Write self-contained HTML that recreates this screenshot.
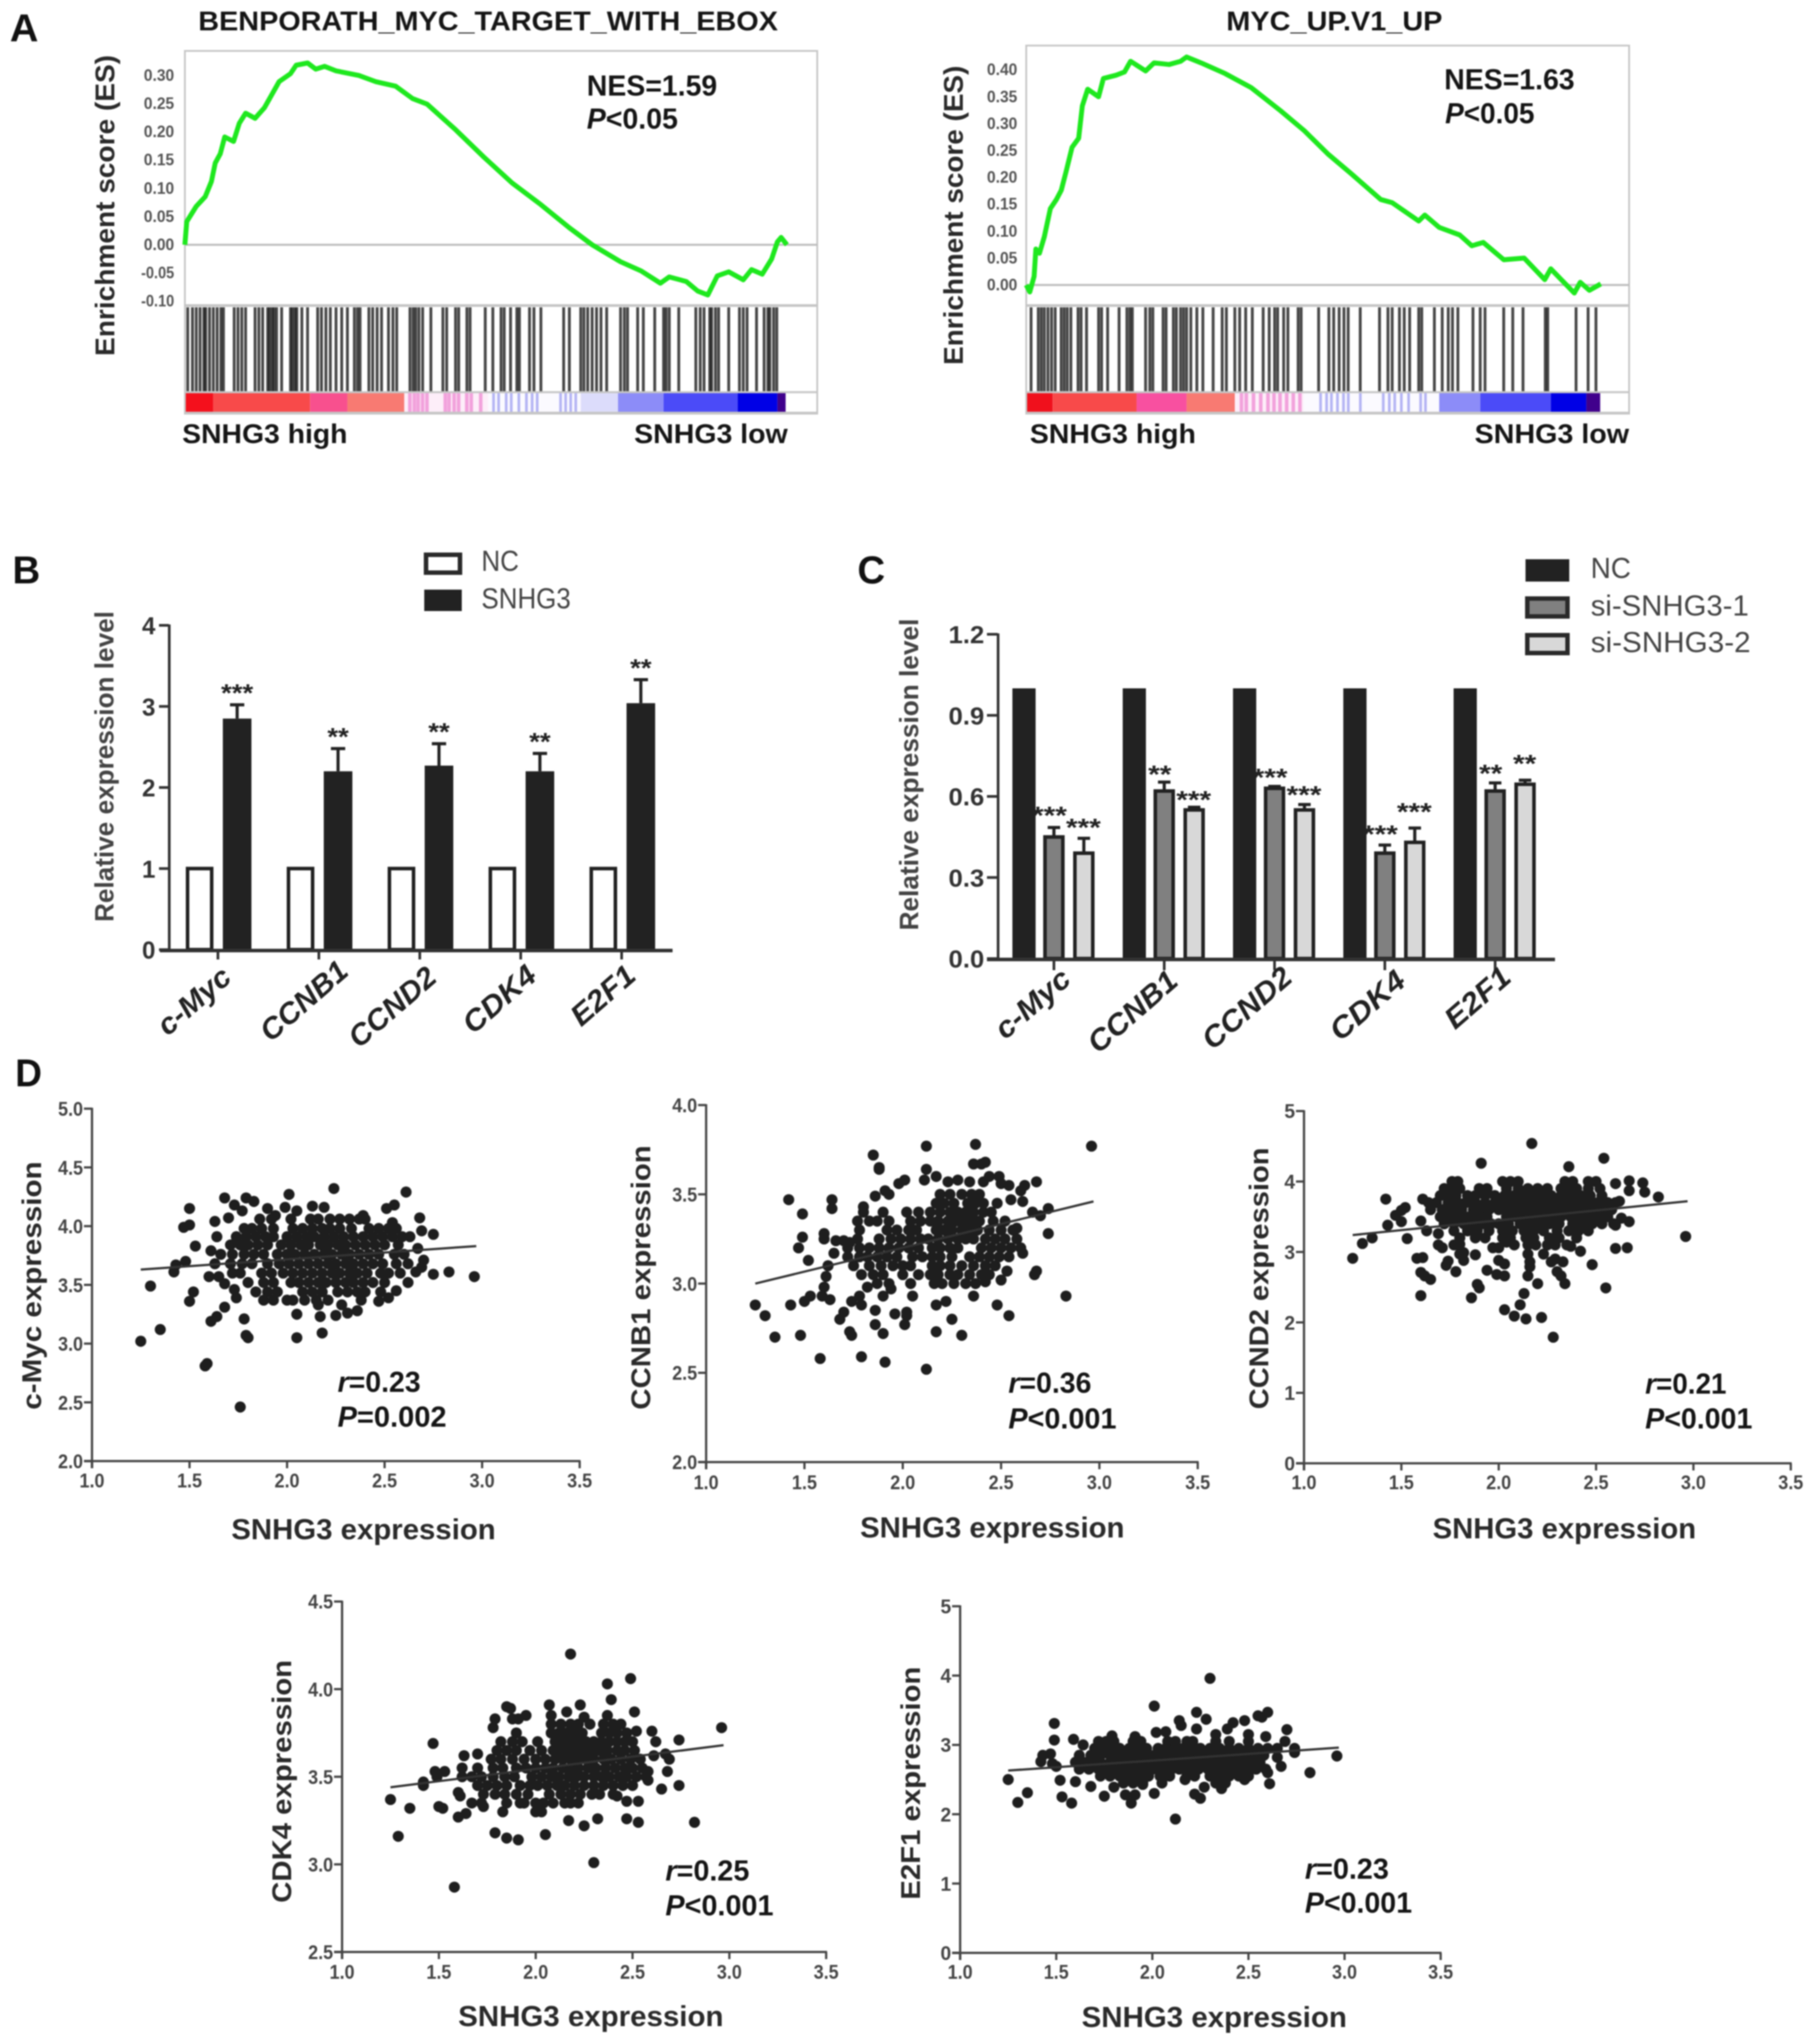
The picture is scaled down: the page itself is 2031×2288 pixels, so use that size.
<!DOCTYPE html>
<html lang="en">
<head>
<meta charset="utf-8">
<title>SNHG3 figure</title>
<style>
html,body{margin:0;padding:0;background:#fff;}
#figure{display:block;width:2031px;height:2288px;filter:blur(0.8px);font-family:"Liberation Sans",Arial,sans-serif;}
.panel{font-weight:bold;font-size:44px;fill:#111;}
.big{font-weight:bold;fill:#151515;}
.lab{font-weight:bold;fill:#2a2a2a;}
.leg{fill:#444;}
</style>
</head>
<body>
<svg id="figure" xmlns="http://www.w3.org/2000/svg" width="2031" height="2288" viewBox="0 0 2031 2288">
<rect width="2031" height="2288" fill="#fff"/>
<g id="marks"></g>

<text class="panel" x="11" y="46" textLength="32" lengthAdjust="spacingAndGlyphs">A</text>
<text class="panel" x="14" y="653" textLength="31" lengthAdjust="spacingAndGlyphs">B</text>
<text class="panel" x="960" y="653" textLength="31" lengthAdjust="spacingAndGlyphs">C</text>
<text class="panel" x="17" y="1216" textLength="30" lengthAdjust="spacingAndGlyphs">D</text>

<text class="big" x="222" y="34" font-size="31" textLength="649" lengthAdjust="spacingAndGlyphs">BENPORATH_MYC_TARGET_WITH_EBOX</text>
<text class="big" x="1373" y="34" font-size="31" textLength="242" lengthAdjust="spacingAndGlyphs">MYC_UP.V1_UP</text>
<text class="lab" transform="translate(128 230) rotate(-90)" text-anchor="middle" font-size="31" textLength="337" lengthAdjust="spacingAndGlyphs">Enrichment score (ES)</text>
<text class="lab" transform="translate(1078 241) rotate(-90)" text-anchor="middle" font-size="31" textLength="335" lengthAdjust="spacingAndGlyphs">Enrichment score (ES)</text>
<text class="big" x="657" y="107" font-size="32" textLength="146" lengthAdjust="spacingAndGlyphs">NES=1.59</text>
<text class="big" x="657" y="144" font-size="32" textLength="102" lengthAdjust="spacingAndGlyphs"><tspan font-style="italic">P</tspan>&lt;0.05</text>
<text class="big" x="1617" y="100" font-size="32" textLength="146" lengthAdjust="spacingAndGlyphs">NES=1.63</text>
<text class="big" x="1618" y="138" font-size="32" textLength="100" lengthAdjust="spacingAndGlyphs"><tspan font-style="italic">P</tspan>&lt;0.05</text>
<text class="big" x="204" y="496" font-size="31" textLength="185" lengthAdjust="spacingAndGlyphs">SNHG3 high</text>
<text class="big" x="710" y="496" font-size="31" textLength="172" lengthAdjust="spacingAndGlyphs">SNHG3 low</text>
<text class="big" x="1153" y="496" font-size="31" textLength="186" lengthAdjust="spacingAndGlyphs">SNHG3 high</text>
<text class="big" x="1651" y="496" font-size="31" textLength="173" lengthAdjust="spacingAndGlyphs">SNHG3 low</text>

<text class="lab" transform="translate(127 858) rotate(-90)" text-anchor="middle" font-size="30" style="fill:#444" textLength="348" lengthAdjust="spacingAndGlyphs">Relative expression level</text>
<text class="lab" transform="translate(1028 867) rotate(-90)" text-anchor="middle" font-size="30" style="fill:#444" textLength="349" lengthAdjust="spacingAndGlyphs">Relative expression level</text>
<rect x="477" y="621" width="38" height="20" fill="#fff" stroke="#2a2a2a" stroke-width="5"/>
<text class="leg" x="539" y="639" font-size="32" textLength="42" lengthAdjust="spacingAndGlyphs">NC</text>
<rect x="475" y="660" width="42" height="24" fill="#222"/>
<text class="leg" x="539" y="681" font-size="32" textLength="100" lengthAdjust="spacingAndGlyphs">SNHG3</text>
<rect x="1708" y="626" width="49" height="25" fill="#222"/>
<text class="leg" x="1781" y="647" font-size="32" textLength="45" lengthAdjust="spacingAndGlyphs">NC</text>
<rect x="1710" y="670" width="45" height="20" fill="#808080" stroke="#2a2a2a" stroke-width="5"/>
<text class="leg" x="1781" y="689" font-size="32" textLength="177" lengthAdjust="spacingAndGlyphs">si-SNHG3-1</text>
<rect x="1710" y="711" width="45" height="20" fill="#d8d8d8" stroke="#2a2a2a" stroke-width="5"/>
<text class="leg" x="1781" y="730" font-size="32" textLength="179" lengthAdjust="spacingAndGlyphs">si-SNHG3-2</text>

<text class="lab" transform="translate(46 1439) rotate(-90)" text-anchor="middle" font-size="31" textLength="278" lengthAdjust="spacingAndGlyphs">c-Myc expression</text>
<text class="lab" x="259" y="1723" font-size="32" textLength="296" lengthAdjust="spacingAndGlyphs">SNHG3 expression</text>
<text class="big" x="378" y="1558" font-size="32" textLength="93" lengthAdjust="spacingAndGlyphs"><tspan font-style="italic">r</tspan>=0.23</text>
<text class="big" x="378" y="1597" font-size="32" textLength="122" lengthAdjust="spacingAndGlyphs"><tspan font-style="italic">P</tspan>=0.002</text>

<text class="lab" transform="translate(728 1430) rotate(-90)" text-anchor="middle" font-size="31" textLength="296" lengthAdjust="spacingAndGlyphs">CCNB1 expression</text>
<text class="lab" x="963" y="1721" font-size="32" textLength="296" lengthAdjust="spacingAndGlyphs">SNHG3 expression</text>
<text class="big" x="1129" y="1559" font-size="32" textLength="93" lengthAdjust="spacingAndGlyphs"><tspan font-style="italic">r</tspan>=0.36</text>
<text class="big" x="1129" y="1599" font-size="32" textLength="121" lengthAdjust="spacingAndGlyphs"><tspan font-style="italic">P</tspan>&lt;0.001</text>

<text class="lab" transform="translate(1420 1431) rotate(-90)" text-anchor="middle" font-size="31" textLength="293" lengthAdjust="spacingAndGlyphs">CCND2 expression</text>
<text class="lab" x="1604" y="1722" font-size="32" textLength="295" lengthAdjust="spacingAndGlyphs">SNHG3 expression</text>
<text class="big" x="1842" y="1560" font-size="32" textLength="91" lengthAdjust="spacingAndGlyphs"><tspan font-style="italic">r</tspan>=0.21</text>
<text class="big" x="1842" y="1599" font-size="32" textLength="120" lengthAdjust="spacingAndGlyphs"><tspan font-style="italic">P</tspan>&lt;0.001</text>

<text class="lab" transform="translate(326 1994) rotate(-90)" text-anchor="middle" font-size="31" textLength="272" lengthAdjust="spacingAndGlyphs">CDK4 expression</text>
<text class="lab" x="513" y="2268" font-size="32" textLength="297" lengthAdjust="spacingAndGlyphs">SNHG3 expression</text>
<text class="big" x="745" y="2105" font-size="32" textLength="94" lengthAdjust="spacingAndGlyphs"><tspan font-style="italic">r</tspan>=0.25</text>
<text class="big" x="745" y="2144" font-size="32" textLength="121" lengthAdjust="spacingAndGlyphs"><tspan font-style="italic">P</tspan>&lt;0.001</text>

<text class="lab" transform="translate(1030 1996) rotate(-90)" text-anchor="middle" font-size="31" textLength="261" lengthAdjust="spacingAndGlyphs">E2F1 expression</text>
<text class="lab" x="1211" y="2269" font-size="32" textLength="297" lengthAdjust="spacingAndGlyphs">SNHG3 expression</text>
<text class="big" x="1461" y="2103" font-size="32" textLength="94" lengthAdjust="spacingAndGlyphs"><tspan font-style="italic">r</tspan>=0.23</text>
<text class="big" x="1461" y="2141" font-size="32" textLength="120" lengthAdjust="spacingAndGlyphs"><tspan font-style="italic">P</tspan>&lt;0.001</text>
</svg>

<script>
/* ---------- GSEA data: rank is percent of the ranked gene list ---------- */
const esRankLeft=[0,0.3,1.8,3.2,4.2,4.8,5.6,6.3,7.7,8.6,9.6,11.1,12.6,14.9,16.7,17.6,19.4,20.7,22.1,23.9,27.5,30.2,33.3,36,38.3,42.8,47.3,51.8,56.3,60.8,64.4,68.9,72.1,75.2,76.6,79.3,81.1,82.7,84.2,86,88.3,89.6,91.3,92.8,93.7,94.3,95.2];
const esValueLeft=[0,0.041,0.068,0.085,0.112,0.145,0.161,0.191,0.183,0.215,0.233,0.224,0.243,0.289,0.303,0.318,0.322,0.311,0.316,0.308,0.300,0.289,0.281,0.259,0.249,0.204,0.155,0.109,0.071,0.030,0,-0.030,-0.046,-0.068,-0.057,-0.065,-0.082,-0.089,-0.055,-0.048,-0.062,-0.044,-0.052,-0.025,0.005,0.013,0];
const esRankRight=[0,0.6,1.3,1.6,2.2,3,4,5,5.8,6.6,7.6,8.7,9.3,10.2,12,12.8,14.9,16.3,17.3,19.8,21.2,23.7,25.6,26.6,29,33,37.3,42.2,46.1,50,53.9,58.8,60.7,65.1,66.1,68.5,71.9,73.9,75.8,79.2,82.6,86,87,90.9,91.9,93.4,95.3];
const esValueRight=[0,-0.013,0.016,0.067,0.059,0.090,0.142,0.159,0.176,0.21,0.256,0.273,0.333,0.364,0.35,0.384,0.39,0.396,0.416,0.398,0.413,0.41,0.416,0.424,0.413,0.393,0.367,0.324,0.287,0.244,0.207,0.159,0.153,0.119,0.13,0.107,0.093,0.073,0.079,0.047,0.05,0.01,0.03,-0.015,0.005,-0.01,0.002];
const esTickLeft=[-0.10,-0.05,0,0.05,0.10,0.15,0.20,0.25,0.30];
const esTickRight=[0,0.05,0.10,0.15,0.20,0.25,0.30,0.35,0.40];
const hitsLeft=[0.45,1.2,1.8,2.4,3.0,3.3,3.9,4.5,5.1,5.7,6.1,7.8,8.4,9.0,9.6,11.1,11.7,12.3,13.1,13.4,13.8,14.1,14.5,15.3,16.7,17.0,17.4,17.7,18.5,19.4,21.0,21.6,22.3,23.0,23.9,24.8,25.7,26.8,27.3,27.7,29.1,29.7,30.4,31.1,32.2,32.9,33.5,35.6,36.1,36.5,37.0,37.6,38.9,40.8,41.4,42.8,43.3,44.6,45.1,47.5,48.7,50,50.5,51.5,52.5,52.9,54.5,55.2,56.3,59.9,60.8,62.6,63.1,63.7,64.4,65.1,65.8,66.7,68.9,69.5,70,71.6,72.5,74.3,75.7,76.1,76.6,78.1,80.8,81.5,82.1,83,83.3,83.9,84.4,86,87.7,88.3,88.9,90.4,91.6,92.2,92.5,93.1,93.6];
const hitsRight=[0.8,2,2.5,3,3.6,4.2,4.8,5.8,6.3,6.8,7.4,8.6,9.1,10,12,12.5,13.5,15.4,16.7,17.2,17.6,19.8,20.5,21,22.7,23.2,24.4,24.9,25.6,26.1,26.6,27.3,28.3,29.3,31,32.5,33.2,34.6,35.4,36.4,37.5,39.3,40.3,41.2,41.7,42.7,43.4,45.1,45.6,48.5,50.2,51,51.9,52.7,53.4,55.4,58.6,60,60.7,61.9,62.7,63.6,65.1,65.6,67.7,69,70,70.7,71.6,74.1,75.3,76.1,79.2,80.7,82.4,86.1,86.5,91.2,93.2,94.5];
const heatEdgesLeft=[0,4.5,19.8,25.7,34.7,48,62.6,68.5,75.7,87.4,93.7,95];
const heatEdgesRight=[0,4.4,18.3,26.6,34.6,46,68.5,75.3,87,92.9,95.2];
const heatColorsLeft=['#f4101c','#f84a4a','#f8508e','#f87a72','#fdeef9','#fbfaff','#dcdcfb','#8c8cf8','#4b4bf8','#0000e6','#40008c'];
const heatColorsRight=['#f0101c','#f84a4a','#f850a0','#f87a72','#fdeef9','#fbfaff','#8c8cf8','#4b4bf8','#0000e6','#40008c'];
const paleStripesLeft=[35.3,36,36.6,37.3,38,40.9,41.5,42.3,43,44.3,45,46.5];
const blueStripesLeft=[48.6,49.4,50.6,51.4,52.6,53.8,54.7,55.5,59.2,60,60.8,61.6];
const paleStripesRight=[35.4,36.2,37.4,38.6,39.8,40.8,41.8,42.9,44,45.1];
const blueStripesRight=[48.6,49.6,50.4,51.4,52.4,53.2,55.2,59,60,60.9,62,63.2,65.2,66];

/* ---------- Bar chart B ---------- */
const geneLabels=['c-Myc','CCNB1','CCND2','CDK4','E2F1'];
const bTickValues=[0,1,2,3,4];
const bNcValues=[1,1,1,1,1];
const bSnhg3Values=[2.85,2.2,2.27,2.2,3.04];
const bSnhg3ErrorTop=[3.02,2.48,2.54,2.42,3.33];
const bStars=['***','**','**','**','**'];

/* ---------- Bar chart C ---------- */
const cTickValues=[0,0.3,0.6,0.9,1.2];
const cNcValues=[1,1,1,1,1];
const cSi1Values=[0.45,0.62,0.63,0.39,0.62];
const cSi2Values=[0.39,0.55,0.55,0.43,0.645];
const cSi1ErrorTop=[0.485,0.653,0.637,0.42,0.65];
const cSi2ErrorTop=[0.445,0.56,0.57,0.483,0.66];
const cSi1StarLevel=[0.552,0.704,0.693,0.483,0.708];
const cSi2StarLevel=[0.508,0.61,0.628,0.565,0.744];
const cSi1Stars=['***','**','***','***','**'];
const cSi2Stars=['***','***','***','***','**'];

/* ---------- Scatter charts: loose points, then the dense core as [y,[x...]] rows ---------- */
const snhg3Ticks=[1,1.5,2,2.5,3,3.5];
const cMycTicks=[2,2.5,3,3.5,4,4.5,5];
const ccnb1Ticks=[2,2.5,3,3.5,4];
const wholeTicks=[0,1,2,3,4,5];
const cdk4Ticks=[2.5,3,3.5,4,4.5];
const cMycFit=[[1.25,3.63],[2.97,3.83]];
const ccnb1Fit=[[1.25,3.0],[2.97,3.46]];
const ccnd2Fit=[[1.25,3.24],[2.97,3.72]];
const cdk4Fit=[[1.25,3.44],[2.97,3.68]];
const e2f1Fit=[[1.25,2.63],[2.97,2.96]];

const cMycLoose=[[1.25,3.02],[1.30,3.49],[1.35,3.12],[1.42,3.61],[1.43,3.67],[1.48,3.70],[1.47,3.99],[1.50,4.01],[1.50,4.15],[1.50,3.36],[1.52,3.44],[1.53,3.83],[1.58,2.81],[1.59,2.83],[1.76,2.46],[1.61,3.79],[1.60,3.57],[1.65,3.57],[1.68,3.51],[1.61,3.19],[1.64,3.23],[1.68,3.31],[1.73,3.46],[1.74,3.39],[1.78,3.21],[1.80,3.05],[1.79,3.07],[2.05,3.05],[2.18,3.09],[2.05,3.25],[2.17,3.23],[2.25,3.24],[2.31,3.26],[2.36,3.28],[2.28,3.33],[2.16,3.33],[2.47,3.36],[2.52,3.39],[2.56,3.45],[2.62,3.52],[2.66,3.61],[2.69,3.65],[2.70,3.71],[2.75,3.59],[2.83,3.61],[2.96,3.57],[2.75,3.93],[2.69,3.96],[2.68,4.07],[2.63,3.91],[2.67,3.81],[2.61,4.29],[2.55,4.18],[2.51,4.15],[2.24,4.32],[2.01,4.27],[1.68,4.24],[1.73,4.18],[1.79,4.24],[1.77,4.13],[1.83,4.21],[1.90,4.15],[1.99,4.16],[2.05,4.13],[2.13,4.17],[2.19,4.16],[1.70,4.07],[1.63,4.04],[1.64,3.91],[1.94,4.09],[2.39,4.09],[2.54,4.03]];
const cMycCore=[
[4.06,[1.86,1.92,2.02,2.12,2.16,2.22,2.27,2.32,2.37,2.40]],
[3.98,[1.78,1.82,1.87,1.93,2.03,2.08,2.13,2.18,2.22,2.27,2.33,2.42,2.47,2.52,2.56]],
[3.91,[1.74,1.79,1.84,1.89,1.93,2.00,2.05,2.10,2.14,2.19,2.24,2.29,2.34,2.39,2.44,2.49,2.54,2.59]],
[3.84,[1.71,1.76,1.80,1.85,1.90,1.97,2.02,2.07,2.11,2.17,2.21,2.26,2.30,2.35,2.40,2.45,2.50,2.57]],
[3.76,[1.66,1.72,1.78,1.83,1.88,1.95,2.00,2.04,2.09,2.14,2.19,2.23,2.28,2.32,2.37,2.42,2.47,2.55,2.60]],
[3.68,[1.63,1.71,1.77,1.82,1.90,1.96,2.01,2.06,2.11,2.16,2.21,2.25,2.30,2.34,2.39,2.44,2.49,2.56,2.62]],
[3.60,[1.72,1.76,1.87,1.92,1.98,2.03,2.08,2.13,2.18,2.23,2.27,2.32,2.36,2.41,2.48,2.52,2.58]],
[3.52,[1.80,1.88,1.93,2.02,2.06,2.11,2.16,2.20,2.25,2.30,2.34,2.39,2.44,2.50]],
[3.44,[1.84,1.90,1.95,2.08,2.13,2.18,2.26,2.31,2.36,2.40,2.48]],
[3.37,[1.88,1.93,2.00,2.03,2.09,2.15,2.21,2.38]]];

const ccnb1Loose=[[1.25,2.88],[1.30,2.82],[1.35,2.70],[1.43,2.88],[1.48,2.71],[1.50,2.90],[1.53,2.93],[1.42,3.47],[1.49,3.39],[1.49,3.26],[1.47,3.20],[1.52,3.13],[1.64,3.47],[1.64,3.42],[1.60,3.28],[1.60,3.25],[1.65,3.17],[1.62,3.10],[1.61,3.04],[1.60,2.98],[1.59,2.93],[1.63,2.91],[1.58,2.58],[1.79,2.59],[1.91,2.56],[2.12,2.52],[1.73,2.73],[1.74,2.71],[1.68,2.80],[1.70,2.84],[1.86,2.85],[1.86,2.77],[1.90,2.72],[1.96,2.83],[2.02,2.84],[2.02,2.82],[2.01,2.77],[2.17,2.73],[2.25,2.80],[2.30,2.71],[2.48,2.88],[2.54,2.82],[2.83,2.93],[2.74,3.28],[2.36,2.93],[2.22,2.90],[2.17,2.88],[2.05,2.93],[1.94,2.97],[1.90,2.93],[1.82,2.98],[1.78,2.93],[1.74,2.90],[1.79,2.88],[2.96,3.77],[2.12,3.77],[2.37,3.78],[1.85,3.72],[1.88,3.65],[1.88,3.64],[2.12,3.64],[2.36,3.67],[2.40,3.67],[2.42,3.68],[2.49,3.60],[2.44,3.60],[2.41,3.57],[2.68,3.57],[2.62,3.55],[2.60,3.52],[2.01,3.58],[1.98,3.56],[2.17,3.60],[2.11,3.58],[2.28,3.58],[2.34,3.57],[2.23,3.57],[2.54,3.55],[2.50,3.56],[1.91,3.52],[1.93,3.50],[1.86,3.49],[1.80,3.43],[2.74,3.42],[2.70,3.38],[2.66,3.40],[2.61,3.46],[2.55,3.47],[2.48,3.45],[2.58,3.31],[2.61,3.17],[2.68,3.07],[2.67,3.05],[2.53,3.07],[2.50,3.02],[2.42,3.01],[1.66,3.24],[1.70,3.24],[1.73,3.23]];
const ccnb1Core=[
[3.50,[2.19,2.24,2.30,2.35,2.39]],
[3.45,[2.17,2.21,2.26,2.33,2.37,2.41]],
[3.40,[1.80,1.90,2.02,2.08,2.14,2.19,2.24,2.28,2.32,2.36,2.41,2.45]],
[3.35,[1.77,1.83,1.87,1.93,2.04,2.09,2.14,2.18,2.23,2.27,2.31,2.35,2.39,2.46,2.52]],
[3.30,[1.78,1.92,1.97,2.03,2.07,2.17,2.21,2.25,2.30,2.34,2.38,2.44,2.50,2.56]],
[3.25,[1.77,1.88,1.94,1.99,2.04,2.09,2.13,2.18,2.23,2.28,2.32,2.36,2.42,2.47,2.52,2.58]],
[3.20,[1.72,1.78,1.83,1.88,1.93,1.98,2.03,2.08,2.15,2.19,2.24,2.28,2.40,2.45,2.50,2.55,2.60]],
[3.15,[1.72,1.78,1.82,1.87,1.92,1.97,2.05,2.10,2.15,2.19,2.25,2.34,2.39,2.44,2.49,2.54]],
[3.10,[1.75,1.83,1.89,1.95,2.00,2.04,2.15,2.19,2.24,2.30,2.36,2.42,2.47]],
[3.05,[1.79,1.85,1.90,2.00,2.08,2.14,2.18,2.24,2.28,2.34,2.40,2.44]],
[3.00,[1.87,1.93,2.04,2.16,2.20,2.26,2.32,2.37]]];

const ccnd2Loose=[[1.25,2.91],[1.30,3.12],[1.35,3.20],[1.42,3.75],[1.43,3.38],[1.47,3.52],[1.50,3.59],[1.52,3.63],[1.50,3.43],[1.53,3.19],[1.60,3.44],[1.58,2.91],[1.61,2.92],[1.60,2.71],[1.62,2.66],[1.65,2.61],[1.60,2.38],[1.61,3.75],[1.63,3.30],[1.69,3.26],[1.69,3.10],[1.71,3.06],[1.73,2.81],[1.74,2.87],[1.78,2.72],[1.77,3.10],[1.80,3.11],[1.80,2.97],[1.82,2.99],[1.82,2.88],[1.88,2.96],[1.94,2.74],[1.89,2.54],[1.90,2.49],[1.86,2.35],[1.91,4.26],[2.17,4.54],[2.54,4.33],[2.36,4.21],[2.03,2.18],[2.08,2.09],[2.11,2.25],[2.14,2.05],[2.22,2.07],[2.13,2.41],[2.28,1.79],[2.20,2.55],[2.34,2.55],[2.32,2.66],[2.30,2.72],[2.48,2.82],[2.55,2.49],[2.42,3.01],[2.37,3.08],[2.60,3.05],[2.66,3.06],[2.96,3.22],[2.82,3.78],[2.75,3.85],[2.74,3.98],[2.67,4.01],[2.67,3.87],[2.60,3.97],[2.67,3.43],[1.99,2.68],[2.03,2.66],[2.03,2.83],[2.0,2.88],[1.97,3.06],[2.0,3.06],[2.04,3.14],[2.15,2.66],[2.16,2.79],[2.15,2.97],[2.16,2.86],[2.23,2.97],[2.27,2.86],[2.33,2.86],[2.29,2.90],[2.62,3.72],[2.63,3.48],[2.60,3.38]];
const ccnd2Core=[
[4.00,[1.76,1.79,2.02,2.06,2.10,2.34,2.38,2.46,2.50]],
[3.90,[1.72,1.76,1.80,1.90,1.94,2.04,2.10,2.15,2.20,2.25,2.32,2.36,2.40,2.46,2.52]],
[3.80,[1.70,1.74,1.78,1.84,1.88,1.93,1.98,2.03,2.08,2.13,2.17,2.22,2.27,2.32,2.37,2.42,2.47,2.53]],
[3.70,[1.64,1.68,1.74,1.79,1.83,1.88,1.93,1.98,2.02,2.07,2.12,2.16,2.21,2.26,2.31,2.36,2.41,2.46,2.51,2.56,2.60]],
[3.60,[1.65,1.71,1.76,1.81,1.87,1.91,1.95,2.00,2.05,2.10,2.15,2.19,2.24,2.29,2.34,2.38,2.43,2.48,2.53,2.58]],
[3.50,[1.70,1.75,1.80,1.85,1.90,1.94,2.04,2.09,2.13,2.18,2.23,2.28,2.32,2.37,2.42,2.47,2.52,2.56]],
[3.40,[1.72,1.77,1.82,1.87,1.92,1.96,2.00,2.05,2.11,2.16,2.21,2.26,2.31,2.38,2.43,2.48,2.53,2.59]],
[3.30,[1.77,1.84,1.89,1.95,2.02,2.07,2.13,2.18,2.23,2.30,2.36,2.41,2.46]],
[3.20,[1.80,1.88,1.93,2.02,2.06,2.14,2.18,2.26,2.31,2.40]],
[3.10,[2.08,2.15,2.19,2.25,2.29,2.35]]];

const cdk4Loose=[[1.25,3.37],[1.29,3.16],[1.35,3.32],[1.42,3.45],[1.42,3.47],[1.47,3.69],[1.48,3.53],[1.53,3.53],[1.49,3.50],[1.50,3.33],[1.52,3.32],[1.58,2.87],[1.79,3.18],[1.85,3.15],[1.91,3.14],[2.05,3.17],[1.60,3.27],[1.64,3.29],[1.61,3.39],[1.60,3.41],[1.63,3.62],[1.70,3.63],[1.67,3.35],[1.73,3.33],[1.83,3.30],[1.94,3.35],[2.0,3.30],[2.03,3.30],[2.18,4.20],[2.49,4.06],[2.37,4.03],[2.39,3.94],[2.23,3.91],[2.07,3.91],[1.85,3.90],[1.87,3.89],[2.51,3.87],[2.16,3.87],[1.95,3.85],[1.88,3.83],[1.91,3.83],[1.79,3.83],[1.78,3.78],[2.17,3.25],[2.25,3.22],[2.32,3.26],[2.47,3.26],[2.53,3.24],[2.82,3.24],[2.30,3.01],[2.96,3.78],[2.74,3.71],[2.74,3.45],[2.65,3.43],[2.53,3.36],[2.47,3.36],[2.42,3.39],[2.60,3.76],[2.62,3.70],[2.52,3.76],[2.67,3.63],[2.69,3.60],[2.68,3.53],[2.61,3.62],[2.58,3.53],[2.58,3.48],[2.08,3.85],[2.25,3.84],[2.37,3.85]];
const cdk4Core=[
[3.80,[2.08,2.13,2.18,2.22,2.28,2.35,2.40,2.44]],
[3.75,[1.90,2.08,2.12,2.16,2.20,2.24,2.34,2.38,2.42,2.47]],
[3.70,[1.82,1.88,1.93,2.01,2.10,2.14,2.18,2.22,2.26,2.30,2.34,2.38,2.42,2.46,2.50]],
[3.65,[1.80,1.85,1.90,1.97,2.03,2.09,2.13,2.17,2.21,2.25,2.29,2.33,2.37,2.42,2.46,2.51]],
[3.60,[1.77,1.82,1.88,1.94,2.00,2.05,2.10,2.14,2.18,2.22,2.26,2.30,2.35,2.39,2.44,2.49,2.54]],
[3.55,[1.62,1.70,1.78,1.83,1.90,1.95,2.00,2.05,2.09,2.14,2.18,2.22,2.27,2.31,2.36,2.41,2.46,2.50,2.55]],
[3.50,[1.62,1.67,1.72,1.78,1.84,1.89,1.98,2.03,2.08,2.12,2.17,2.21,2.25,2.30,2.34,2.38,2.43,2.47,2.52,2.57]],
[3.45,[1.70,1.75,1.80,1.85,1.92,1.97,2.01,2.06,2.11,2.15,2.20,2.25,2.30,2.35,2.40,2.45,2.50]],
[3.40,[1.73,1.79,1.84,1.90,1.96,2.07,2.13,2.18,2.23,2.29,2.33,2.40]],
[3.35,[1.72,1.85,1.92,2.00,2.04,2.09,2.15,2.18,2.22]]];

const e2f1Loose=[[1.25,2.50],[1.30,2.17],[1.35,2.31],[1.42,2.76],[1.43,2.85],[1.47,2.87],[1.49,3.31],[1.49,3.07],[1.48,2.73],[1.50,2.69],[1.52,2.49],[1.53,2.25],[1.58,2.16],[1.59,3.08],[1.64,3.0],[1.60,2.47],[1.68,2.40],[1.75,2.26],[1.80,2.39],[1.86,2.28],[1.91,2.28],[1.89,2.16],[1.95,2.43],[2.01,2.30],[2.01,3.56],[2.12,1.93],[2.30,3.96],[2.23,3.47],[2.28,3.37],[2.14,3.35],[2.15,3.28],[2.02,3.18],[2.39,3.23],[2.42,3.32],[2.48,3.35],[2.55,3.42],[2.57,3.40],[2.60,3.47],[2.70,3.22],[2.59,3.12],[2.69,3.05],[2.74,2.95],[2.74,2.89],[2.96,2.84],[2.82,2.60],[2.67,2.69],[2.65,2.82],[2.60,2.60],[2.61,2.44],[2.22,2.29],[2.25,2.23],[2.27,2.39],[2.36,2.37],[2.48,2.50],[2.17,2.50],[2.23,3.23],[2.33,3.15],[2.50,3.15],[2.07,3.19],[1.79,3.13],[1.91,3.12]];
const e2f1Core=[
[3.05,[1.72,1.76,1.80,1.90,1.94,2.08,2.12,2.18,2.21,2.33,2.40,2.50]],
[2.95,[1.70,1.75,1.79,1.83,1.88,1.93,1.97,2.03,2.07,2.12,2.16,2.20,2.25,2.30,2.35,2.40,2.45,2.50,2.55,2.60,2.65]],
[2.85,[1.62,1.68,1.73,1.78,1.82,1.86,1.91,1.96,2.01,2.05,2.10,2.15,2.19,2.24,2.28,2.33,2.38,2.43,2.48,2.53,2.58]],
[2.75,[1.60,1.64,1.69,1.73,1.78,1.83,1.88,1.93,1.98,2.03,2.07,2.12,2.17,2.22,2.26,2.31,2.36,2.41,2.46,2.51,2.56]],
[2.65,[1.62,1.67,1.72,1.76,1.81,1.86,1.91,1.96,2.00,2.05,2.10,2.14,2.19,2.24,2.29,2.34,2.39,2.44,2.49,2.54,2.59]],
[2.55,[1.73,1.78,1.83,1.88,1.93,1.98,2.04,2.09,2.18,2.22,2.30,2.35,2.40,2.45,2.50]],
[2.45,[1.85,1.90,1.95,2.05,2.33,2.38]]];

/* ---------- drawing helpers ---------- */
const NS='http://www.w3.org/2000/svg';
const root=document.getElementById('marks');
function make(tag,props,parent){
  const node=document.createElementNS(NS,tag);
  Object.keys(props).forEach(function(k){node.setAttribute(k,props[k]);});
  (parent||root).appendChild(node);
  return node;
}
function label(str,x,y,size,props,parent){
  const node=make('text',Object.assign({x:x,y:y,'font-size':size,'font-weight':'bold'},props),parent);
  node.textContent=str;
  return node;
}
function linear(d0,d1,r0,r1){return function(v){return r0+(v-d0)*(r1-r0)/(d1-d0);};}
let el;

/* ---------- GSEA panels ---------- */
function drawGsea(f){
  const g=make('g',{});
  
  
  const x=linear(0,100,f.left,f.right);
  const y=linear(0,1,f.zero,f.zero-f.perUnit);
  f.edges.forEach(function(edge,i){
    if(i===f.edges.length-1)return;
    el=make('rect',{x:x(edge),y:439,width:x(f.edges[i+1])-x(edge),height:23,fill:f.colors[i]},g);
    
    
  });
  f.pale.forEach(function(r){
    el=make('rect',{x:x(r),y:439,width:4,height:23,fill:'#f2a2dc'},g);
    
    
  });
  f.blue.forEach(function(r){
    el=make('rect',{x:x(r),y:439,width:3,height:23,fill:'#b4b4f4'},g);
    
    
  });
  f.hits.forEach(function(r){
    el=make('line',{x1:x(r),x2:x(r),y1:344,y2:439,stroke:'#000','stroke-width':3.2,'stroke-opacity':0.72},g);
    
    
  });
  el=make('rect',{x:f.left,y:f.top,width:f.right-f.left,height:463-f.top,fill:'none',stroke:'#c6c6c6','stroke-width':2},g);
  
  
  [342,439,462].forEach(function(v){
    el=make('line',{x1:f.left,x2:f.right,y1:v,y2:v,stroke:'#c6c6c6','stroke-width':v===342?3:2.2},g);
    
    
  });
  el=make('line',{x1:f.left,x2:f.right,y1:y(0),y2:y(0),stroke:'#bdbdbd','stroke-width':2.2},g);
  
  
  f.ticks.forEach(function(t){
    el=label(t.toFixed(2),f.labelRight,y(t)+6,18,{'text-anchor':'end',fill:'#555',textLength:t<0?37:34,lengthAdjust:'spacingAndGlyphs'},g);
    
    
  });
  const d=f.ranks.map(function(r,i){return (i?'L':'M')+x(r).toFixed(1)+' '+y(f.values[i]).toFixed(1);}).join('');
  el=make('path',{d:d,fill:'none',stroke:'#1ee81e','stroke-width':5.5,'stroke-linejoin':'round'},g);
  
  
}
drawGsea({name:'gsea-left',left:207,right:915,top:57,zero:274,perUnit:632,ticks:esTickLeft,ranks:esRankLeft,values:esValueLeft,hits:hitsLeft,edges:heatEdgesLeft,colors:heatColorsLeft,pale:paleStripesLeft,blue:blueStripesLeft,labelRight:195});
drawGsea({name:'gsea-right',left:1149,right:1824,top:51,zero:319,perUnit:602,ticks:esTickRight,ranks:esRankRight,values:esValueRight,hits:hitsRight,edges:heatEdgesRight,colors:heatColorsRight,pale:paleStripesRight,blue:blueStripesRight,labelRight:1139});

/* ---------- bar helpers ---------- */
function drawBar(g,cx,w,y0,yv,fill,stroke,sw){
  el=make('rect',{x:cx-w/2,y:yv,width:w,height:y0-yv,fill:fill,stroke:stroke,'stroke-width':sw},g);
  
  
}
function drawError(g,cx,yFrom,yTop,cap){
  el=make('line',{x1:cx,x2:cx,y1:yFrom,y2:yTop,stroke:'#222','stroke-width':3.5},g);
  
  
  el=make('line',{x1:cx-cap,x2:cx+cap,y1:yTop,y2:yTop,stroke:'#222','stroke-width':3.5},g);
  
  
}
function drawStars(g,str,cx,yc,w){
  el=label(str,cx,yc+16,28,{'text-anchor':'middle',fill:'#222',textLength:w,lengthAdjust:'spacingAndGlyphs'},g);
  
  
}
function drawGeneLabels(g,ends,lengths){
  geneLabels.forEach(function(name,i){
    el=label(name,0,0,33,{'text-anchor':'end','font-style':'italic',fill:'#222',textLength:lengths[i],lengthAdjust:'spacingAndGlyphs',transform:'translate('+(ends[i][0]+6)+' '+(ends[i][1]+6)+') rotate(-41)'},g);
    
    
  });
}

/* ---------- Panel B ---------- */
(function(){
  const g=make('g',{});
  
  
  const y=linear(0,4,1063,700);
  const center=linear(0,4,244,696);
  geneLabels.forEach(function(name,i){
    const c=center(i);
    drawBar(g,c-20.5,27,y(0),y(bNcValues[i]),'#fff','#222',4);
    drawError(g,c+21.5,y(bSnhg3Values[i]),y(bSnhg3ErrorTop[i]),8);
    drawBar(g,c+21.5,32,y(0),y(bSnhg3Values[i]),'#222','#222',0);
    drawStars(g,bStars[i],c+21.5,y(bSnhg3ErrorTop[i])-20,bStars[i].length*12);
    el=make('line',{x1:c,x2:c,y1:y(0),y2:1074,stroke:'#333','stroke-width':3},g);
    
    
  });
  el=make('line',{x1:189.5,x2:189.5,y1:699,y2:1065,stroke:'#333','stroke-width':3},g);
  
  
  el=make('line',{x1:179,x2:753,y1:1064,y2:1064,stroke:'#333','stroke-width':4},g);
  
  
  bTickValues.forEach(function(t){
    el=make('line',{x1:178,x2:189,y1:y(t),y2:y(t),stroke:'#333','stroke-width':3},g);
    
    
    el=label(String(t),174,y(t)+10,28,{'text-anchor':'end',fill:'#333',textLength:15,lengthAdjust:'spacingAndGlyphs'},g);
    
    
  });
  drawGeneLabels(g,[[255,1091],[386,1084],[485,1091],[597,1089],[708,1089]],[97,118,118,97,84]);
})();

/* ---------- Panel C ---------- */
(function(){
  const g=make('g',{});
  
  
  const y=linear(0,1.2,1073,710);
  const center=linear(0,4,1180,1674);
  geneLabels.forEach(function(name,i){
    const c=center(i);
    drawBar(g,c-33.5,26,y(0),y(cNcValues[i]),'#222','#222',0);
    drawError(g,c,y(cSi1Values[i]),y(cSi1ErrorTop[i]),7);
    drawBar(g,c,20,y(0),y(cSi1Values[i]),'#808080','#222',4);
    drawError(g,c+33.5,y(cSi2Values[i]),y(cSi2ErrorTop[i]),7);
    drawBar(g,c+33.5,20,y(0),y(cSi2Values[i]),'#d8d8d8','#222',4);
    drawStars(g,cSi1Stars[i],c-5,y(cSi1StarLevel[i]),cSi1Stars[i].length*13);
    drawStars(g,cSi2Stars[i],c+33,y(cSi2StarLevel[i]),cSi2Stars[i].length*13);
    el=make('line',{x1:c,x2:c,y1:y(0),y2:1086,stroke:'#333','stroke-width':3},g);
    
    
  });
  el=make('line',{x1:1117.5,x2:1117.5,y1:709,y2:1075,stroke:'#333','stroke-width':3},g);
  
  
  el=make('line',{x1:1105,x2:1741,y1:1074,y2:1074,stroke:'#333','stroke-width':4},g);
  
  
  cTickValues.forEach(function(t){
    el=make('line',{x1:1105,x2:1117,y1:y(t),y2:y(t),stroke:'#333','stroke-width':3},g);
    
    
    el=label(t.toFixed(1),1102,y(t)+10,28,{'text-anchor':'end',fill:'#333',textLength:40,lengthAdjust:'spacingAndGlyphs'},g);
    
    
  });
  drawGeneLabels(g,[[1195,1093],[1315,1095],[1443,1091],[1570,1095],[1688,1091]],[100,121,121,100,86]);
})();

/* ---------- Panel D scatter plots ---------- */
function drawScatter(f){
  const g=make('g',{});
  
  
  const x=linear(1,3.5,f.left,f.right);
  const y=linear(f.yMin,f.yMax,f.bottom,f.top);
  const points=f.loose.slice();
  f.core.forEach(function(row){row[1].forEach(function(v){points.push([v,row[0]]);});});
  points.forEach(function(p){
    el=make('circle',{cx:x(p[0]),cy:y(p[1]),r:6.2,fill:'#1e1e1e'},g);
    
    
  });
  el=make('line',{x1:x(f.fit[0][0]),y1:y(f.fit[0][1]),x2:x(f.fit[1][0]),y2:y(f.fit[1][1]),stroke:'#333','stroke-width':2.5},g);
  
  
  el=make('line',{x1:f.left,x2:f.left,y1:f.top-1,y2:f.bottom+8,stroke:'#444','stroke-width':2.5},g);
  
  
  el=make('line',{x1:f.left-9,x2:f.right+1,y1:f.bottom,y2:f.bottom,stroke:'#444','stroke-width':2.5},g);
  
  
  snhg3Ticks.forEach(function(t){
    el=make('line',{x1:x(t),x2:x(t),y1:f.bottom,y2:f.bottom+8,stroke:'#444','stroke-width':2.5},g);
    
    
    el=label(t.toFixed(1),x(t),f.xLabelY,22,{'text-anchor':'middle',fill:'#444',textLength:28,lengthAdjust:'spacingAndGlyphs'},g);
    
    
  });
  f.yTicks.forEach(function(t){
    el=label(f.yDigits?t.toFixed(f.yDigits):String(t),f.left-10,y(t)+8,22,{'text-anchor':'end',fill:'#444',textLength:f.yDigits?28:12,lengthAdjust:'spacingAndGlyphs'},g);
    
    
    el=make('line',{x1:f.left-9,x2:f.left,y1:y(t),y2:y(t),stroke:'#444','stroke-width':2.5},g);
    
    
  });
}
drawScatter({name:'scatter-cmyc',left:103,right:649,top:1241,bottom:1635.5,yMin:2,yMax:5,yTicks:cMycTicks,yDigits:1,xLabelY:1665,loose:cMycLoose,core:cMycCore,fit:cMycFit});
drawScatter({name:'scatter-ccnb1',left:790.6,right:1341,top:1237,bottom:1636.6,yMin:2,yMax:4,yTicks:ccnb1Ticks,yDigits:1,xLabelY:1667,loose:ccnb1Loose,core:ccnb1Core,fit:ccnb1Fit});
drawScatter({name:'scatter-ccnd2',left:1460,right:2005,top:1243.7,bottom:1638,yMin:0,yMax:5,yTicks:wholeTicks,yDigits:0,xLabelY:1667,loose:ccnd2Loose,core:ccnd2Core,fit:ccnd2Fit});
drawScatter({name:'scatter-cdk4',left:383,right:925,top:1792.7,bottom:2185,yMin:2.5,yMax:4.5,yTicks:cdk4Ticks,yDigits:1,xLabelY:2215,loose:cdk4Loose,core:cdk4Core,fit:cdk4Fit});
drawScatter({name:'scatter-e2f1',left:1075,right:1613,top:1798,bottom:2186,yMin:0,yMax:5,yTicks:wholeTicks,yDigits:0,xLabelY:2215,loose:e2f1Loose,core:e2f1Core,fit:e2f1Fit});
</script>
</body>
</html>
